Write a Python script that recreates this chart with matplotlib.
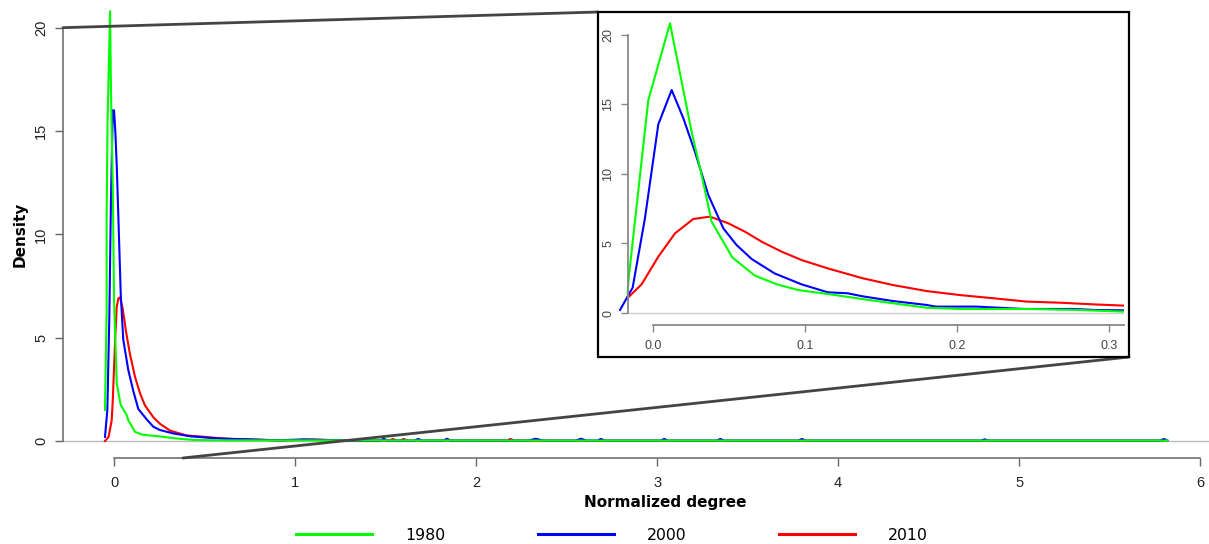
import matplotlib
matplotlib.use("Agg")
import matplotlib.pyplot as plt
from matplotlib.patches import Rectangle, ConnectionPatch
from matplotlib.lines import Line2D

plt.rcParams['font.family'] = ['Liberation Sans', 'DejaVu Sans']

# ---- data: density of normalized degree (main view) ----
years = ["1980", "2000", "2010"]
colors = {"1980": "#00ff00", "2000": "#0000ff", "2010": "#ff0000"}

g80_x = [-0.05, -0.045, -0.041, -0.041, -0.036, -0.029, -0.022, -0.017, -0.007, 0.0,
         0.015, 0.037, 0.07, 0.079, 0.116, 0.16, 0.254, 0.346, 0.44, 0.6,
         1.2, 2.5, 4.0, 5.82]
g80_y = [1.5, 4.2, 6.2, 10.8, 15.4, 18.1, 20.8, 17.0, 12.3, 6.8,
         2.78, 1.74, 1.25, 1.0, 0.44, 0.3, 0.22, 0.12, 0.05, 0.03,
         0.03, 0.02, 0.02, 0.02]

b00_x = [-0.05, -0.037, -0.026, -0.017, -0.007, 0.0, 0.007, 0.015, 0.024, 0.037,
         0.051, 0.079, 0.107, 0.134, 0.18, 0.217, 0.254, 0.33, 0.42, 0.53,
         0.64, 0.75, 0.9, 1.05, 1.2, 1.3, 1.47, 1.49, 1.51, 1.66, 1.68, 1.70,
         1.82, 1.84, 1.86, 2.29, 2.33, 2.37, 2.55, 2.58, 2.61, 2.67, 2.69, 2.71,
         3.02, 3.04, 3.06, 3.33, 3.35, 3.37, 3.78, 3.80, 3.82, 4.79, 4.81, 4.83,
         5.78, 5.80, 5.82]
b00_y = [0.2, 1.5, 6.0, 11.7, 16.0, 16.0, 15.0, 13.3, 10.8, 7.1,
         4.9, 3.42, 2.4, 1.55, 1.05, 0.69, 0.53, 0.36, 0.23, 0.15,
         0.1, 0.08, 0.03, 0.08, 0.04, 0.02, 0.02, 0.11, 0.02, 0.02, 0.1, 0.02,
         0.02, 0.11, 0.02, 0.02, 0.11, 0.02, 0.02, 0.11, 0.02, 0.02, 0.1, 0.02,
         0.02, 0.1, 0.02, 0.02, 0.1, 0.02, 0.02, 0.1, 0.02, 0.02, 0.08, 0.02,
         0.02, 0.1, 0.02]

r10_x = [-0.05, -0.03, -0.013, -0.007, 0.006, 0.015, 0.024, 0.033, 0.048, 0.066,
         0.088, 0.116, 0.144, 0.171, 0.217, 0.254, 0.31, 0.4, 0.5, 0.6,
         0.75, 0.95, 1.1, 1.3, 1.52, 1.54, 1.56, 1.58, 1.60, 1.62, 2.17, 2.19,
         2.21, 2.5, 5.8]
r10_y = [0.0, 0.2, 1.0, 1.97, 4.9, 6.5, 6.9, 6.95, 6.4, 5.3,
         4.2, 3.1, 2.3, 1.72, 1.15, 0.83, 0.5, 0.27, 0.2, 0.12,
         0.07, 0.03, 0.07, 0.02, 0.02, 0.1, 0.02, 0.02, 0.1, 0.02, 0.02, 0.1,
         0.02, 0.01, 0.01]

# ---- data: zoomed view (inset) ----
zg80_x = [-0.0167, -0.016, -0.0031, 0.0112, 0.0254, 0.032, 0.0386, 0.0522, 0.067, 0.0815,
          0.0956, 0.115, 0.138, 0.158, 0.180, 0.202, 0.246, 0.279, 0.31]
zg80_y = [1.4, 2.5, 15.3, 20.84, 13.05, 9.93, 6.57, 4.0, 2.69, 2.06,
          1.65, 1.37, 1.0, 0.70, 0.38, 0.29, 0.29, 0.22, 0.10]

zb00_x = [-0.0217, -0.0134, -0.0053, 0.0035, 0.0123, 0.020, 0.0276, 0.0364, 0.0463, 0.055,
          0.065, 0.080, 0.0978, 0.115, 0.128, 0.138, 0.158, 0.180, 0.186, 0.213,
          0.244, 0.277, 0.290, 0.31]
zb00_y = [0.22, 1.82, 6.81, 13.57, 16.04, 14.0, 11.6, 8.49, 6.09, 4.89,
          3.88, 2.85, 2.06, 1.49, 1.42, 1.2, 0.86, 0.58, 0.46, 0.46,
          0.29, 0.29, 0.22, 0.19]

zr10_x = [-0.017, -0.0075, 0.0035, 0.0145, 0.0265, 0.0375, 0.0496, 0.0605, 0.0715, 0.0847,
          0.0978, 0.115, 0.138, 0.158, 0.180, 0.202, 0.224, 0.246, 0.268, 0.290, 0.31]
zr10_y = [1.05, 2.06, 4.05, 5.73, 6.76, 6.93, 6.45, 5.85, 5.13, 4.41,
          3.81, 3.21, 2.5, 2.01, 1.58, 1.29, 1.06, 0.82, 0.74, 0.62, 0.53]

main_series = {"2010": (r10_x, r10_y), "2000": (b00_x, b00_y), "1980": (g80_x, g80_y)}
zoom_series = {"2010": (zr10_x, zr10_y), "2000": (zb00_x, zb00_y), "1980": (zg80_x, zg80_y)}

W, H = 1209, 544
fig = plt.figure(figsize=(W / 100, H / 100), dpi=100)

def px_box(left, top, right, bottom):
    return [left / W, (H - bottom) / H, (right - left) / W, (bottom - top) / H]

# main axes
ax = fig.add_axes(px_box(63, -5.6, 1267, 458))
ax.set_xlim(-0.282, 6.37)
ax.set_ylim(-0.823, 21.61)
ax.axhline(0, color="#bbbbbb", lw=1, zorder=1)
for yr, (xs, ys) in main_series.items():
    ax.plot(xs, ys, color=colors[yr], lw=1.5, zorder=2)

for s in ["top", "right"]:
    ax.spines[s].set_visible(False)
ax.spines["left"].set_bounds(0, 20)
ax.spines["bottom"].set_bounds(0, 6)
for s in ["left", "bottom"]:
    ax.spines[s].set_color("#666666")
    ax.spines[s].set_linewidth(1.1)
ax.set_yticks([0, 5, 10, 15, 20])
ax.set_xticks([0, 1, 2, 3, 4, 5, 6])
ax.tick_params(direction="out", length=5.8, width=1, color="#666666",
               labelsize=10.5, labelcolor="#222222")
ax.tick_params(axis="y", labelrotation=90, pad=5)
ax.tick_params(axis="x", pad=7)
for lab in ax.get_yticklabels():
    lab.set_va("center")

ax.set_xlabel("Normalized degree", family="DejaVu Sans", fontweight="bold",
              fontsize=11, labelpad=4)
ax.set_ylabel("Density", family="DejaVu Sans", fontweight="bold", fontsize=11)
ax.yaxis.set_label_coords(-35 / 1204, (458 - 234) / 463.6)

# inset
axin = fig.add_axes(px_box(618.8, 12, 1124, 325))
axin.set_xlim(-0.0225, 0.31)
axin.set_ylim(-0.863, 21.65)
axin.hlines(0, -0.0164, 0.31, color="#cccccc", lw=1, zorder=1)
for yr, (xs, ys) in zoom_series.items():
    axin.plot(xs, ys, color=colors[yr], lw=1.5, zorder=2)
for s in ["top", "right"]:
    axin.spines[s].set_visible(False)
axin.spines["left"].set_position(("data", -0.0164))
axin.spines["left"].set_bounds(0, 20)
axin.spines["bottom"].set_bounds(0, 0.31)
for s in ["left", "bottom"]:
    axin.spines[s].set_color("#888888")
    axin.spines[s].set_linewidth(1.3)
axin.set_yticks([0, 5, 10, 15, 20])
axin.set_xticks([0.0, 0.1, 0.2, 0.3])
axin.set_xticklabels(["0.0", "0.1", "0.2", "0.3"])
axin.tick_params(direction="out", length=5, width=1, color="#888888",
                 labelsize=9, labelcolor="#444444")
axin.tick_params(axis="y", labelrotation=90, pad=5)
axin.tick_params(axis="x", pad=6)
for lab in axin.get_yticklabels():
    lab.set_va("center")

# inset frame and connecting lines
fl, ft, fr, fb = 598 / W, (H - 12) / H, 1129 / W, (H - 357) / H
fig.add_artist(Rectangle((fl, fb), fr - fl, ft - fb, transform=fig.transFigure,
                         fill=False, edgecolor="black", lw=1.6, zorder=6))
con1 = ConnectionPatch(xyA=(-0.282, 20), coordsA=ax.transData,
                       xyB=(fl, ft), coordsB=fig.transFigure,
                       color="#444444", lw=2.0, zorder=5)
con2 = ConnectionPatch(xyA=(0.38, -0.823), coordsA=ax.transData,
                       xyB=(fr, fb), coordsB=fig.transFigure,
                       color="#444444", lw=2.0, zorder=5)
fig.add_artist(con1)
fig.add_artist(con2)

# legend
handles = [Line2D([], [], color=colors[y], lw=2.2) for y in years]
fig.legend(handles, years, loc="center", bbox_to_anchor=(612 / W, 9 / H), ncol=3,
           frameon=False, handlelength=4.85, handletextpad=2.1, columnspacing=5.9,
           prop={"family": "DejaVu Sans", "size": 11.3}, borderpad=0, borderaxespad=0)

fig.savefig("out.png", dpi=100)
